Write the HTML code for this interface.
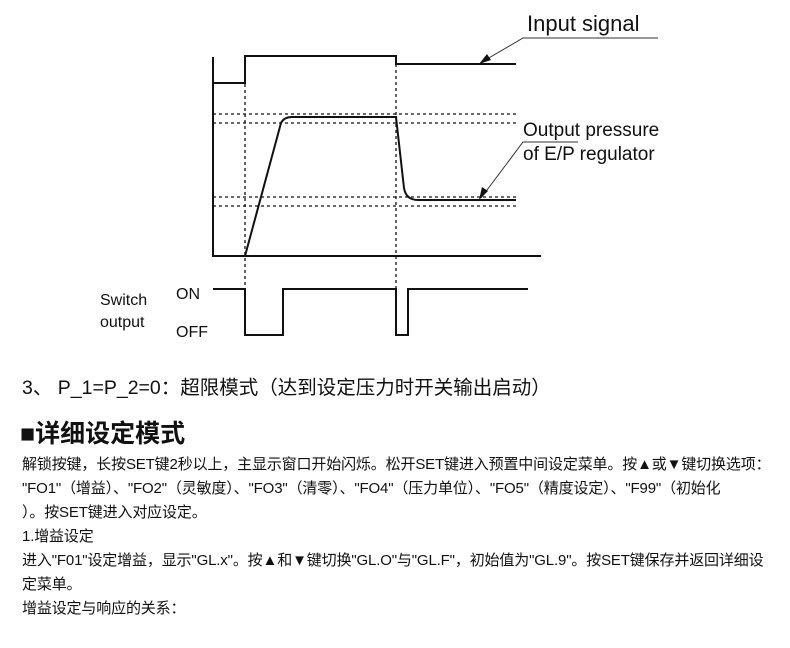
<!DOCTYPE html>
<html><head><meta charset="utf-8"><style>
body{margin:0;width:790px;height:648px;background:#fff;position:relative;overflow:hidden;font-family:"Liberation Sans","Noto Sans CJK SC",sans-serif;color:#111}
.t{position:absolute;white-space:nowrap}
.b{font-size:15px;left:22px;line-height:24px;letter-spacing:-0.15px}
</style></head><body>
<svg width="790" height="350" style="position:absolute;left:0;top:0" xmlns="http://www.w3.org/2000/svg">
<g stroke="#111" stroke-width="2" fill="none">
<polyline points="213,57 213,256 541,256"/>
<polyline points="213,83 245,83 245,56 396,56 396,64 516,64"/>
<path d="M245,256 L281,123 Q284,117 292,117 L396,117 L404,188 Q406,200 418,200 L516,200"/>
<polyline points="213,289 245,289 245,335 283,335 283,289 396,289 396,335 408,335 408,289 528,289"/>
</g>
<g stroke="#111" stroke-width="1.3" stroke-dasharray="3,3" fill="none">
<line x1="245" y1="84" x2="245" y2="336"/><line x1="396" y1="64" x2="396" y2="336"/>
<line x1="213" y1="114" x2="516" y2="114"/><line x1="213" y1="123" x2="516" y2="123"/>
<line x1="213" y1="197" x2="516" y2="197"/><line x1="213" y1="206" x2="516" y2="206"/>
</g>
<g stroke="#333" stroke-width="1" fill="none">
<polyline points="658,38 523,38 482,62"/>
<polyline points="578,142 523,142 481,198"/>
</g>
<polygon points="479,64 487,54 491,60" fill="#111"/>
<polygon points="479,200 482,187 488,191" fill="#111"/>
<g font-family="Liberation Sans,sans-serif" fill="#111">
<text x="527" y="31" font-size="22">Input signal</text>
<text x="523" y="136" font-size="19">Output pressure</text>
<text x="523" y="160" font-size="19">of E/P regulator</text>
<text x="100" y="305" font-size="16">Switch</text>
<text x="100" y="327" font-size="16">output</text>
<text x="176" y="299" font-size="16">ON</text>
<text x="176" y="337" font-size="16">OFF</text>
</g>
</svg>
<div class="t" style="left:22px;top:371px;font-size:19.5px">3、 P_1=P_2=0：超限模式（达到设定压力时开关输出启动）</div>
<div class="t" style="left:20px;top:414px;font-size:25px;font-weight:bold">■详细设定模式</div>
<div class="t b" style="top:453px">解锁按键，长按SET键2秒以上，主显示窗口开始闪烁。松开SET键进入预置中间设定菜单。按▲或▼键切换选项：</div>
<div class="t b" style="top:477px">"FO1"（增益）、"FO2"（灵敏度）、"FO3"（清零）、"FO4"（压力单位）、"FO5"（精度设定）、"F99"（初始化</div>
<div class="t b" style="top:501px">）。按SET键进入对应设定。</div>
<div class="t b" style="top:525px">1.增益设定</div>
<div class="t b" style="top:549px">进入"F01"设定增益，显示"GL.x"。按▲和▼键切换"GL.O"与"GL.F"，初始值为"GL.9"。按SET键保存并返回详细设</div>
<div class="t b" style="top:573px">定菜单。</div>
<div class="t b" style="top:597px">增益设定与响应的关系：</div>
</body></html>
